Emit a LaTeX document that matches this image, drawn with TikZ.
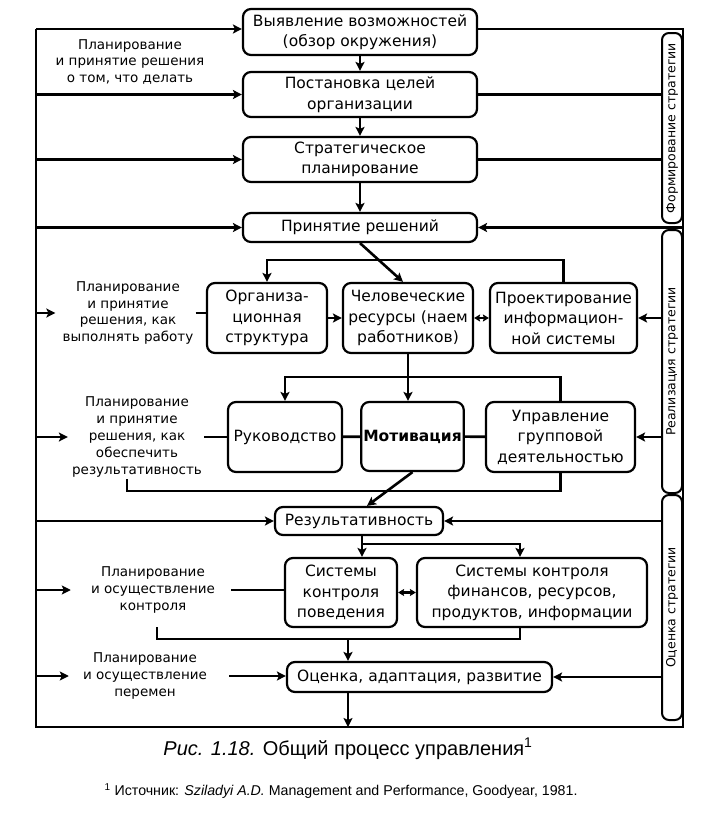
\documentclass[tikz,border=0pt]{standalone}
\usepackage{fontspec}
\setmainfont{DejaVu Sans}
\newfontfamily\capfont{Liberation Sans}
\usetikzlibrary{arrows.meta}

\begin{document}
\begin{tikzpicture}[x=1pt, y=-1pt, line width=2.6pt,
    >={Stealth[length=9pt,width=9pt,inset=2pt]},
    box/.style={draw, line width=2.2pt, rounded corners=8pt, align=center,
      inner sep=2pt, font=\fontsize{15.5}{20.5}\selectfont},
    side/.style={draw, line width=2pt, rounded corners=7pt, minimum width=20,
      inner sep=0pt, font=\fontsize{12.5}{14}\selectfont},
    note/.style={align=center, inner sep=1pt, font=\fontsize{13.5}{16.8}\selectfont},
    tiny/.style={<->, >={Stealth[length=6pt,width=7pt,inset=1pt]}}]
  \useasboundingbox (0,0) rectangle (707,825);
  %--- Frame corners
  \coordinate (tl) at (36,29);
  \coordinate (tr) at (683,29);
  \coordinate (bl) at (36,727);
  \coordinate (br) at (683,727);
  \coordinate (j2) at (348,638);
  %--- Strategy formulation
  \node[box, minimum width=234, minimum height=46] (b1) at (360,32)
    {Выявление возможностей\\(обзор окружения)};
  \node[box, minimum width=234, minimum height=45] (b2) at (360,94.5)
    {Постановка целей\\организации};
  \node[box, minimum width=234, minimum height=45] (b3) at (360,159.5)
    {Стратегическое\\планирование};
  \node[box, minimum width=234, minimum height=29] (b4) at (360,227.5)
    {Принятие решений};
  %--- Strategy implementation
  \node[box, minimum width=120, minimum height=70] (org) at (267,318)
    {Организа-\\ционная\\структура};
  \node[box, minimum width=130, minimum height=70] (hum) at (408,318)
    {Человеческие\\ресурсы (наем\\работников)};
  \node[box, minimum width=147, minimum height=70] (proj) at (563.5,318)
    {Проектирование\\информацион-\\ной системы};
  \node[box, minimum width=114, minimum height=70] (ruk) at (285,437)
    {Руководство};
  \node[box, minimum width=101, minimum height=69, font=\fontsize{15.5}{20.5}\selectfont\bfseries]
    (mot) at (412.5,436.5) {Мотивация};
  \node[box, minimum width=149, minimum height=70] (upr) at (560.5,437)
    {Управление\\групповой\\деятельностью};
  %--- Strategy evaluation
  \node[box, minimum width=168, minimum height=28] (res) at (359,521)
    {Результативность};
  \node[box, minimum width=112, minimum height=69] (sysb) at (341,592.5)
    {Системы\\контроля\\поведения};
  \node[box, minimum width=230, minimum height=69] (sysf) at (532,592.5)
    {Системы контроля\\финансов, ресурсов,\\продуктов, информации};
  \node[box, minimum width=265, minimum height=30] (ocen) at (419.5,677)
    {Оценка, адаптация, развитие};
  %--- Side labels
  \node[side, minimum height=190] (fs) at (672,128) {\rotatebox{90}{Формирование стратегии}};
  \node[side, minimum height=263] (rs) at (672,361.5) {\rotatebox{90}{Реализация стратегии}};
  \node[side, minimum height=225] (os) at (672,607.5) {\rotatebox{90}{Оценка стратегии}};
  %--- Left notes
  \node[note] (t1) at (130,62) {Планирование\\и принятие решения\\о том, что делать};
  \node[note] (t2) at (128,313) {Планирование\\и принятие\\решения, как\\выполнять работу};
  \node[note] (t3) at (137,437) {Планирование\\и принятие\\решения, как\\обеспечить\\результативность};
  \node[note] (t4) at (153,590) {Планирование\\и осуществление\\контроля};
  \node[note] (t5) at (145,676) {Планирование\\и осуществление\\перемен};
  %--- Outer frame
  \draw (tr -| b1.east) -- (tr) -- (br) -- (bl) -- (tl);
  \draw[->] (tl) -- (tl -| b1.west);
  \draw[->] (tl |- b2) -- (b2);
  \draw[->] (tl |- b3) -- (b3);
  \draw[->] (tl |- b4) -- (b4);
  \draw (b2) -- (b2 -| fs.west);
  \draw (b3) -- (b3 -| fs.west);
  \draw[->] (tr |- b4) -- (b4);
  %--- Top chain
  \draw[->] (b1) -- (b2);
  \draw[->] (b2) -- (b3);
  \draw[->] (b3) -- (b4);
  \draw[->] (b4.south) -- ([xshift=-5]hum.north);
  \draw[->] (proj.north) -- ++(0,-22) -| (org.north);
  %--- Implementation row 1
  \draw[->] (tl |- t2) -- ([xshift=-5]t2.west);
  \draw (t2.east) -- (t2.east -| org.west);
  \draw[->] (org) -- (hum);
  \draw[tiny] (hum) -- (proj);
  \draw[->] (rs.west |- proj) -- (proj);
  %--- Implementation row 2
  \draw[->] (hum.south) -- (hum.south |- mot.north);
  \draw[->] (upr.north) -- ++(0,-24) -| (ruk.north);
  \draw[->] (tl |- t3) -- ([xshift=-2]t3.west);
  \draw (t3.east) -- (t3.east -| ruk.west);
  \draw (ruk) -- (mot);
  \draw (mot) -- (upr);
  \draw[->] (rs.west |- upr) -- (upr);
  \draw (upr.south) -- ++(0,18) -| ([xshift=-10]t3.south);
  \draw[->] (mot.south) -- ([xshift=8]res.north);
  %--- Evaluation
  \draw[->] (tl |- res) -- (res);
  \draw[->] (os.west |- res) -- (res);
  \draw[->] ([xshift=3]res.south) -- ([xshift=3]res.south |- sysb.north);
  \draw[->] ([xshift=3]res.south) -- ++(0,8) -| ([xshift=-12]sysf.north);
  \draw[tiny] (sysb) -- (sysf);
  \draw[->] (tl |- t4) -- ([xshift=-18]t4.west);
  \draw ([xshift=14]t4.east) -- (t4.east -| sysb.west);
  \draw ([xshift=-12]sysf.south) -- ++(0,11) -| ([xshift=4,yshift=-12]t4.south);
  \draw[->] (j2) -- (j2 |- ocen.north);
  \draw[->] (tl |- t5) -- ([xshift=-12]t5.west);
  \draw[->] ([xshift=20]t5.east) -- (t5.east -| ocen.west);
  \draw[->] (os.west |- ocen) -- (ocen);
  \draw[->] (j2 |- ocen.south) -- (j2 |- bl);
  %--- Caption
  \node[font=\capfont\fontsize{20}{22}\selectfont] (cap) at (348,749)
    {\textit{Рис. 1.18.} Общий процесс управления\textsuperscript{1}};
  \node[font=\capfont\fontsize{14.2}{16}\selectfont, anchor=west] (src) at (100,791)
    {\textsuperscript{1} Источник: \textit{Sziladyi A.D.} Management and Performance, Goodyear, 1981.};
\end{tikzpicture}
\end{document}
